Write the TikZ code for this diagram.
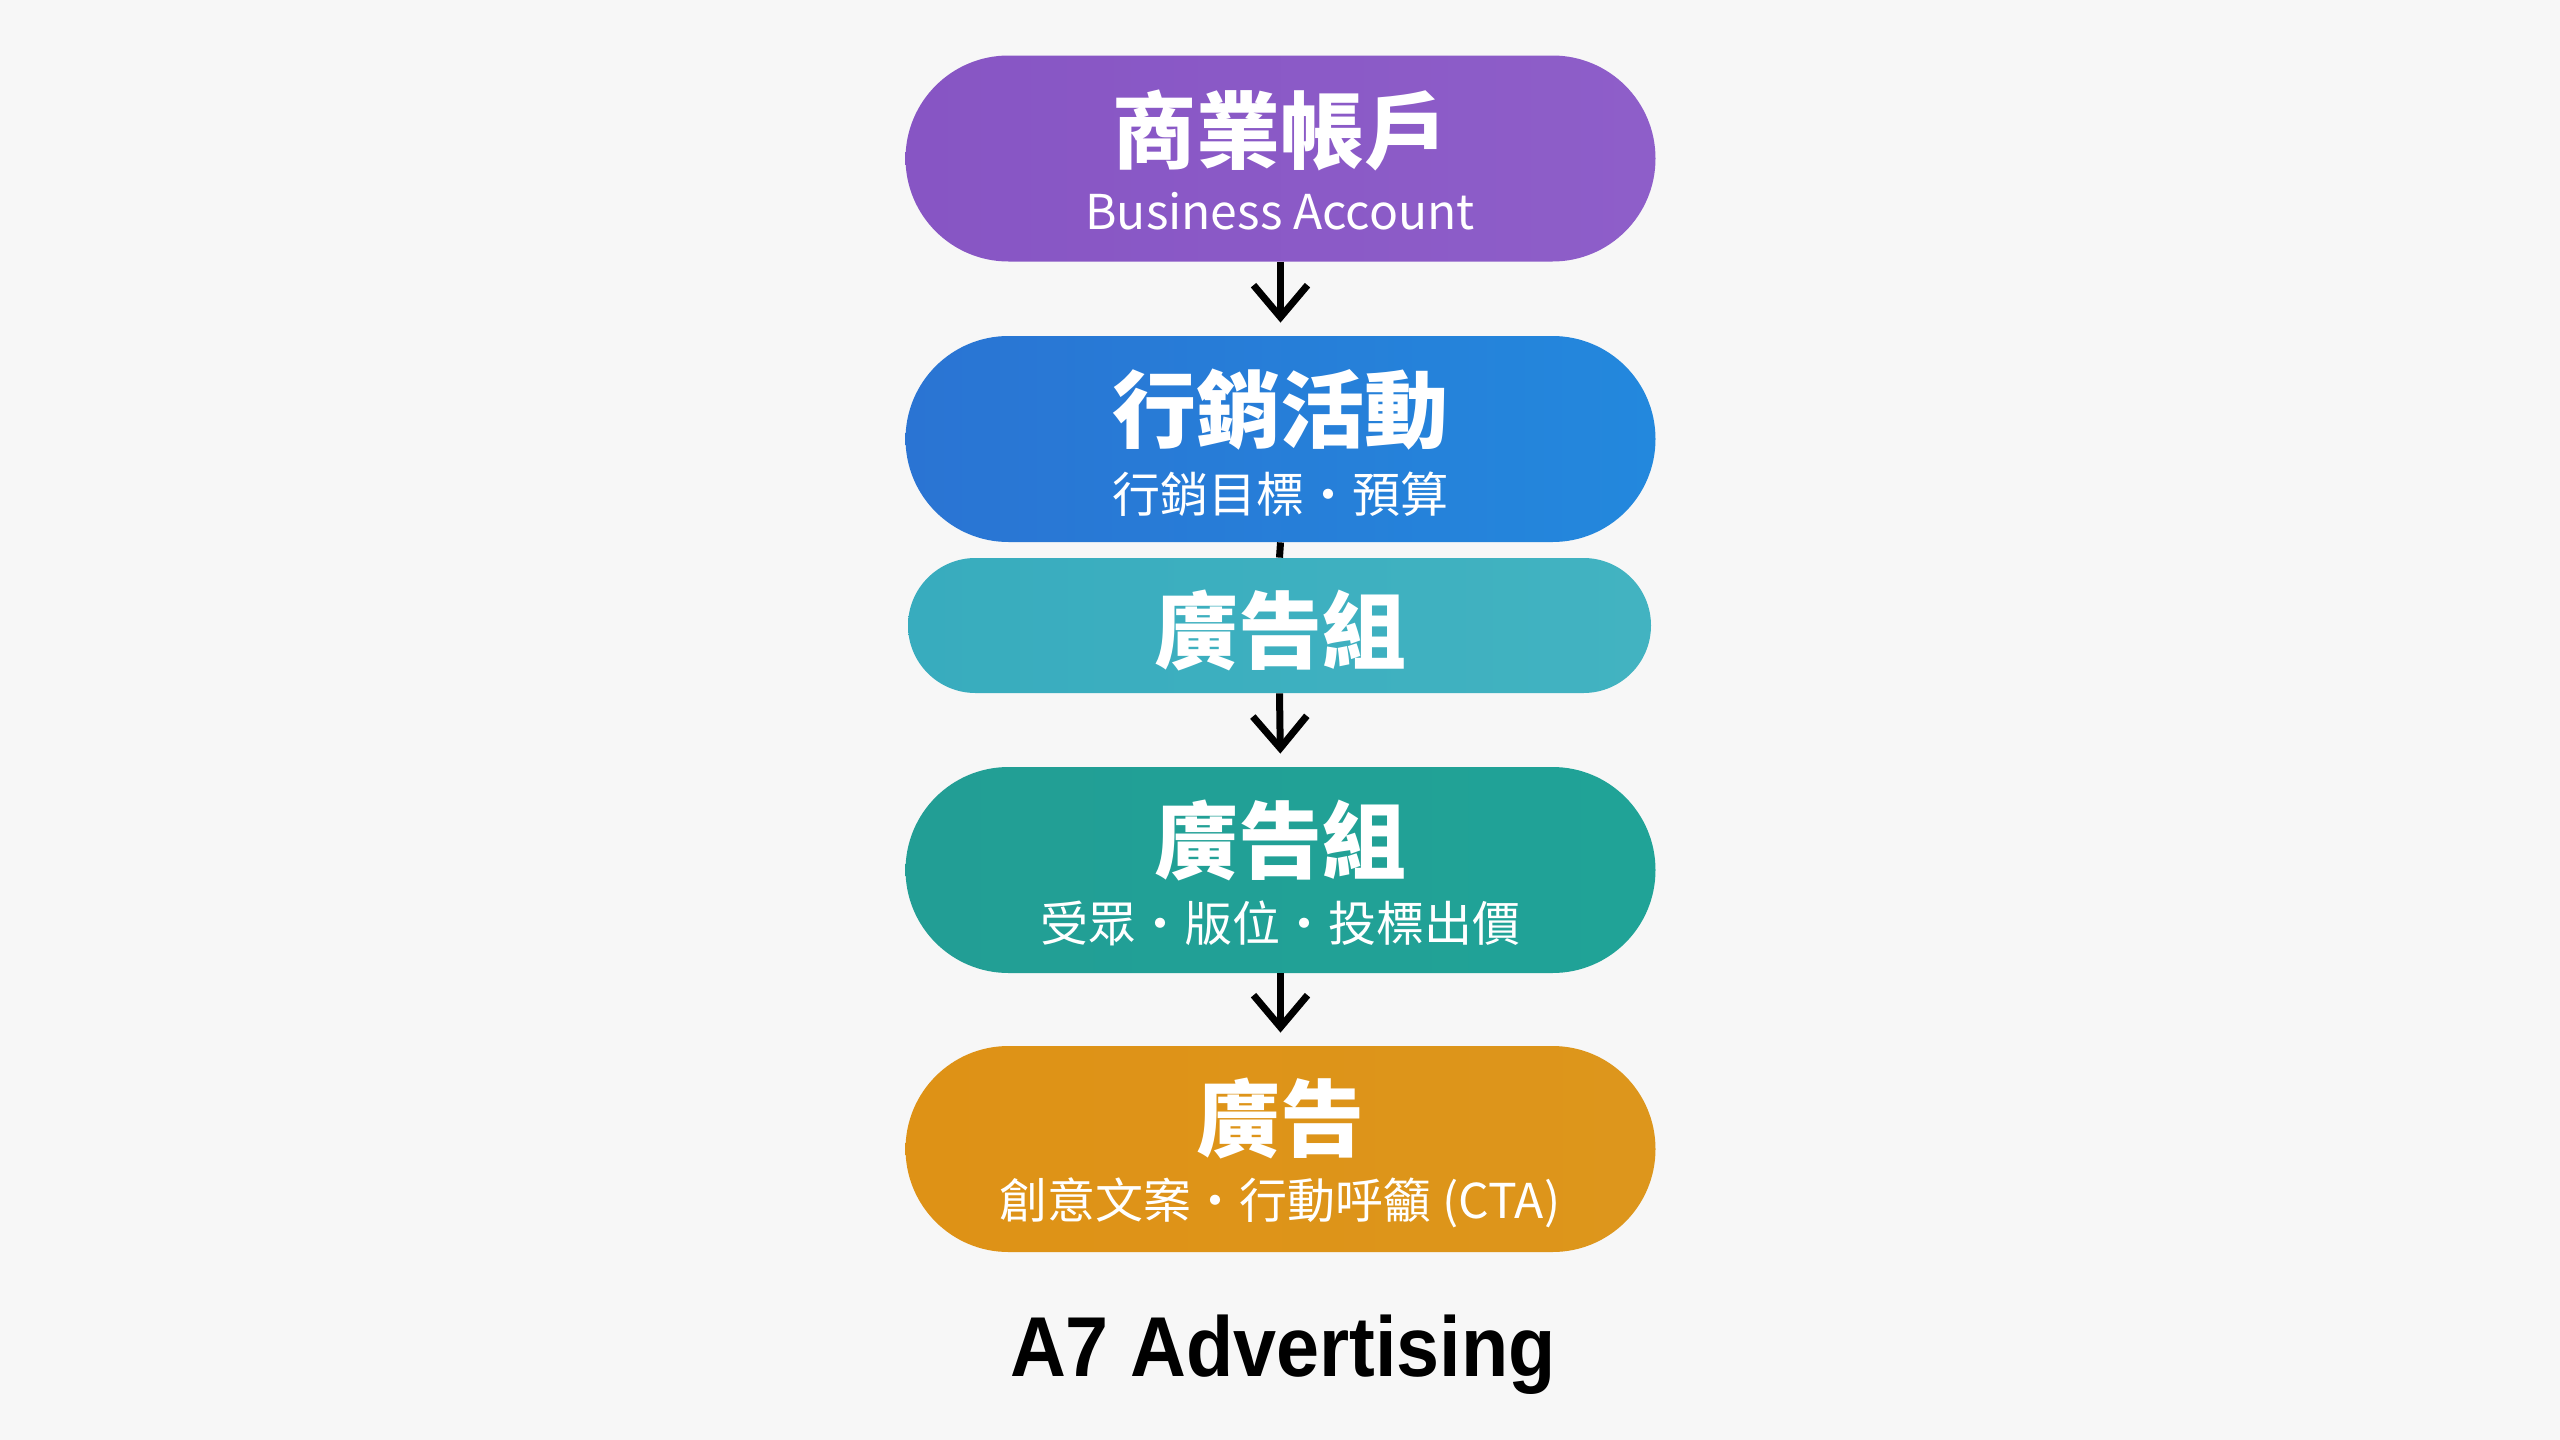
\documentclass[tikz,border=0pt]{standalone}
\usepackage{fontspec}
\setmainfont{Noto Sans CJK TC}
\newfontfamily\brandfont{Liberation Sans}
\usetikzlibrary{arrows.meta}
\definecolor{bgc}{HTML}{F7F7F7}
\definecolor{purpleA}{HTML}{8755C4}
\definecolor{purpleB}{HTML}{8E5EC9}
\definecolor{blueA}{HTML}{2A74D3}
\definecolor{blueB}{HTML}{2388DD}
\definecolor{tealA}{HTML}{38ACBE}
\definecolor{tealB}{HTML}{42B3C1}
\definecolor{greenA}{HTML}{229E95}
\definecolor{greenB}{HTML}{20A397}
\definecolor{orangeA}{HTML}{DE9216}
\definecolor{orangeB}{HTML}{DD961C}
\tikzset{
  pill/.style={draw=none, inner sep=0pt, minimum width=375pt, minimum height=103pt, rounded corners=51.5pt},
  smallpill/.style={draw=none, inner sep=0pt, minimum width=371.5pt, minimum height=67.5pt, rounded corners=33.75pt},
  ttl/.style={text=white, inner sep=0pt, font=\fontsize{42pt}{44pt}\selectfont\bfseries},
  sub/.style={text=white, inner sep=0pt, font=\fontsize{24pt}{26pt}\selectfont},
  subl/.style={text=white, inner sep=0pt, font=\fontsize{24pt}{26pt}\selectfont},
  conn/.style={draw=black, line width=3.5pt},
  arr/.style={conn, -{Straight Barb[length=16pt, width=27pt, line width=3.5pt]}, shorten >=6.5pt}
}
\begin{document}
\begin{tikzpicture}[x=0.5pt,y=-0.5pt]
\path[fill=bgc] (0,0) rectangle (2560,1440);
\useasboundingbox (0,0) rectangle (2560,1440);

\node[pill, left color=purpleA, right color=purpleB] (b1) at (1280.5,158.5) {};
\node[pill, left color=blueA, right color=blueB] (b2) at (1280.5,439) {};
\node[smallpill, left color=tealA, right color=tealB] (b3) at (1279.5,625.5) {};
\node[pill, left color=greenA, right color=greenB] (b4) at (1280.5,870) {};
\node[pill, left color=orangeA, right color=orangeB] (b5) at (1280.5,1149) {};

\node[ttl] (t1) at (1280,130) {商業帳戶};
\node[subl] (s1) at (1280,211) {Business Account};
\node[ttl] (t2) at (1280,410) {行銷活動};
\node[sub] (s2) at (1280,494) {行銷目標・預算};
\node[ttl] (t3) at (1280,630) {廣告組};
\node[ttl] (t4) at (1280,840) {廣告組};
\node[sub] (s4) at (1280,923) {受眾・版位・投標出價};
\node[ttl] (t5) at (1280,1118) {廣告};
\node[sub] (s5) at (1280,1203) {創意文案・行動呼籲 (CTA)};

\node[anchor=base, inner sep=0pt, font=\brandfont\bfseries\fontsize{42.5pt}{44pt}\selectfont] (brand) at (1283,1376) {\scalebox{0.91}[1]{A7 Advertising}};

\draw[arr] (b1.south) -- (b2.north);
\draw[conn] (b2.south) -- (b3.north);
\draw[arr] (b3.south) -- (b4.north);
\draw[arr] (b4.south) -- (b5.north);
\end{tikzpicture}
\end{document}
